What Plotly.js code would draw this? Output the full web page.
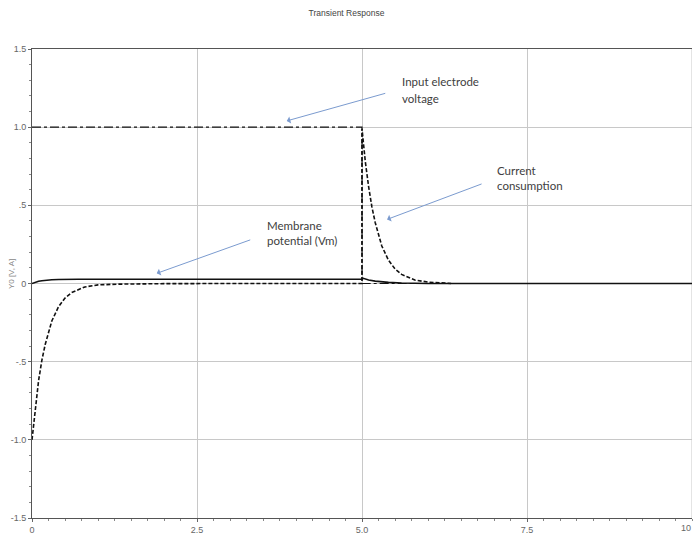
<!DOCTYPE html>
<html>
<head>
<meta charset="utf-8">
<script src="https://cdn.plot.ly/plotly-3.0.1.min.js"></script>
<style>html,body{margin:0;padding:0;background:#fff;}#chart{width:693px;height:534px;}</style>
</head>
<body>
<div id="chart"></div>
<script>
// Input electrode voltage (dash-dot)
const voltageT = [0, 5.0, 5.0, 10];
const voltageV = [1.0, 1.0, 0, 0];

// Current consumption (dashed)
const currentT = [0, 0.05, 0.1, 0.15, 0.2, 0.3, 0.4, 0.5, 0.6, 0.8, 1.0, 1.3, 1.6, 2.0, 3.0, 4.0, 5.0,
                  5.0, 5.05, 5.1, 5.15, 5.2, 5.3, 5.4, 5.5, 5.6, 5.8, 6.0, 6.35];
const currentV = [-1.0, -0.79, -0.62, -0.49, -0.39, -0.24, -0.15, -0.093, -0.058, -0.022, -0.009, -0.004, -0.002, -0.001, 0, 0, 0,
                  0.99, 0.78, 0.62, 0.49, 0.39, 0.24, 0.15, 0.093, 0.058, 0.022, 0.009, 0.0];

// Membrane potential Vm (solid)
const membraneT = [0, 0.05, 0.1, 0.15, 0.2, 0.3, 0.4, 0.5, 0.7, 1.0, 5.0, 5.02, 5.1, 5.2, 5.3, 5.4, 5.6, 5.8, 6.0, 10];
const membraneV = [0, 0.008, 0.014, 0.018, 0.021, 0.024, 0.026, 0.027, 0.027, 0.027, 0.027, 0.033, 0.022, 0.015, 0.01, 0.007, 0.003, 0.001, 0, 0];

const xTickVals = [0, 2.5, 5, 7.5];
const xTickText = ["0", "2.5", "5.0", "7.5"];
const xEndTick = "10";
const yTickVals = [-1.5, -1.0, -0.5, 0, 0.5, 1.0, 1.5];
const yTickText = ["-1.5", "-1.0", "-.5", "0", ".5", "1.0", "1.5"];

const traces = [
  {x: voltageT, y: voltageV, mode: 'lines', name: 'Input electrode voltage',
   line: {color: '#111', width: 1.2, dash: 'dashdot'}},
  {x: currentT, y: currentV, mode: 'lines', name: 'Current consumption',
   line: {color: '#111', width: 1.6, dash: '4px,2px'}},
  {x: membraneT, y: membraneV, mode: 'lines', name: 'Membrane potential (Vm)',
   line: {color: '#111', width: 1.6}}
];

const narrow = '"Liberation Sans Narrow", "Liberation Sans", Arial, sans-serif';
const tickFont = {family: narrow, size: 9, color: '#666'};
const noteFont = {family: 'Lato, "Noto Sans", sans-serif', size: 11.5, color: '#404040'};
const arrowColor = '#7b9bcf';

function label(text, x, y) {
  return {x: x, y: y, xref: 'x', yref: 'y', text: text, showarrow: false,
          xanchor: 'left', yanchor: 'middle', font: noteFont};
}
function arrow(x, y, ax, ay) {
  return {x: x, y: y, xref: 'x', yref: 'y', ax: ax, ay: ay, text: '', showarrow: true,
          arrowhead: 1, arrowsize: 1.2, arrowwidth: 1, arrowcolor: arrowColor};
}

const layout = {
  width: 693, height: 534,
  margin: {l: 32, r: 1, t: 49, b: 16},
  paper_bgcolor: '#fff', plot_bgcolor: '#fff',
  showlegend: false,
  title: {text: 'Transient Response', x: 0.5, xanchor: 'center', y: 0.975, yanchor: 'middle',
          font: {family: narrow, size: 8.5, color: '#444'}},
  xaxis: {range: [0, 10], tickvals: xTickVals, ticktext: xTickText, tickfont: tickFont,
          showgrid: true, gridcolor: '#c8c8c8', gridwidth: 1, zeroline: false,
          showline: true, linecolor: '#555', linewidth: 1, mirror: true,
          ticks: 'outside', ticklen: 3, tickcolor: '#666',
          minor: {dtick: 0.25, ticks: 'outside', ticklen: 2, tickcolor: '#888', showgrid: false},
          fixedrange: true},
  yaxis: {range: [-1.5, 1.5], tickvals: yTickVals, ticktext: yTickText, tickfont: tickFont,
          showgrid: true, gridcolor: '#c8c8c8', gridwidth: 1, zeroline: false,
          showline: true, linecolor: '#555', linewidth: 1,
          ticks: 'outside', ticklen: 3, tickcolor: '#666',
          minor: {dtick: 0.1, ticks: 'outside', ticklen: 2, tickcolor: '#888', showgrid: false},
          fixedrange: true},
  shapes: [
    {type: 'line', xref: 'x', yref: 'paper', x0: 10, x1: 10, y0: 0, y1: 1,
     line: {color: '#c8c8c8', width: 1}, layer: 'below'}
  ],
  annotations: [
    {xref: 'paper', yref: 'y', x: 0, y: 0.06, xshift: -21, text: 'Y0 [V, A]', textangle: -90,
     showarrow: false, xanchor: 'center', yanchor: 'middle', font: {family: narrow, size: 8, color: '#888'}},
    {xref: 'x', yref: 'paper', x: 10, y: 0, yshift: -3, xshift: 1, text: xEndTick, showarrow: false,
     xanchor: 'right', yanchor: 'top', font: tickFont},
    {xref: 'x', yref: 'paper', x: 5.05, y: 0, yshift: -15, text: 'Time (s)', showarrow: false,
     xanchor: 'center', yanchor: 'top', font: {family: narrow, size: 7, color: '#999'}},
    label('Input electrode', 5.576, 1.293),
    label('voltage', 5.576, 1.185),
    label('Current', 7.015, 0.725),
    label('consumption', 7.015, 0.629),
    label('Membrane', 3.53, 0.374),
    label('potential (Vm)', 3.53, 0.272),
    arrow(3.86, 1.04, 100, -28),
    arrow(5.38, 0.41, 96, -36),
    arrow(1.89, 0.065, 95, -34)
  ]
};

Plotly.newPlot('chart', traces, layout, {displayModeBar: false, staticPlot: true});
</script>
</body>
</html>
